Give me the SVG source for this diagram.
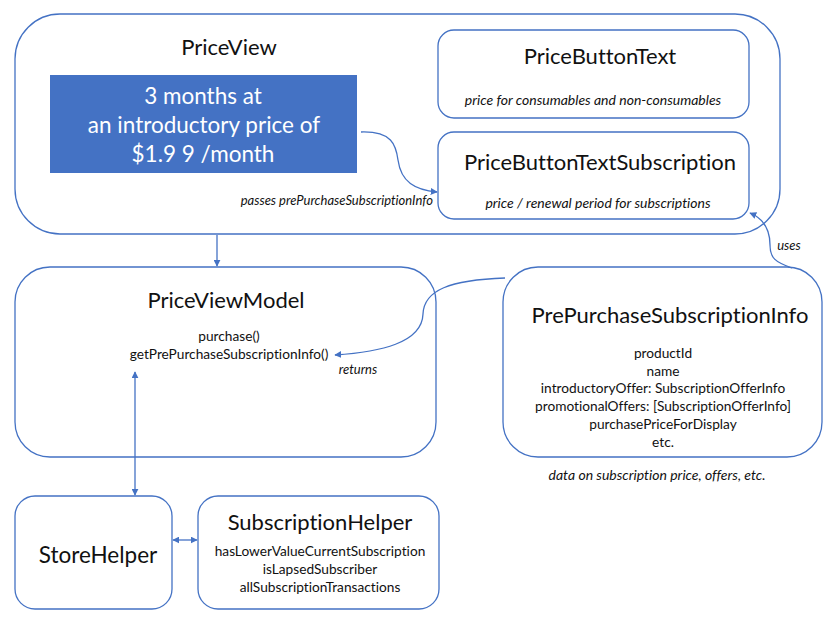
<svg xmlns="http://www.w3.org/2000/svg" width="838" height="627" viewBox="0 0 838 627">
<defs>
<marker id="ah" viewBox="0 0 10 10" refX="9" refY="5" markerWidth="7" markerHeight="7" orient="auto-start-reverse" markerUnits="userSpaceOnUse">
<path d="M0,0 L10,5 L0,10 z" fill="#4472C4"/>
</marker>
<style>
.box{fill:#fff;stroke:#4472C4;stroke-width:1.3}
.t{font-family:Lato,"Liberation Sans",sans-serif;fill:#111;text-anchor:middle;font-variant-ligatures:none;font-feature-settings:"liga" 0,"clig" 0,"dlig" 0}
.title{font-size:22px}
.body{font-size:13.7px}
.it{font-style:italic;font-size:14px}
.blue{font-size:22.5px;fill:#fff}
.con{fill:none;stroke:#4472C4;stroke-width:1.3}
</style>
</defs>
<rect width="838" height="627" fill="#fff"/>

<g id="PriceView">
<rect class="box" x="15" y="14" width="765" height="220" rx="45" ry="45"/>
<text class="t title" x="229" y="55">PriceView</text>
<rect x="50" y="75" width="307" height="98" fill="#4472C4"/>
<text class="t blue" x="203" y="104">3 months at</text>
<text class="t blue" x="204" y="133">an introductory price of</text>
<text class="t blue" x="203" y="162">$1.9 9 /month</text>
<text class="t it" style="text-anchor:end;font-size:13px" x="433" y="205">passes prePurchaseSubscriptionInfo</text>
</g>

<g id="PriceButtonText">
<rect class="box" x="438" y="30" width="311" height="88" rx="16" ry="16"/>
<text class="t title" x="600" y="64">PriceButtonText</text>
<text class="t it" x="593" y="105">price for consumables and non-consumables</text>
</g>

<g id="PriceButtonTextSubscription">
<rect class="box" x="438" y="132" width="311" height="87" rx="16" ry="16"/>
<text class="t title" x="600" y="170">PriceButtonTextSubscription</text>
<text class="t it" x="598" y="208">price / renewal period for subscriptions</text>
</g>

<g id="PriceViewModel">
<rect class="box" x="15" y="267" width="421" height="190" rx="35" ry="35"/>
<text class="t title" x="226" y="308">PriceViewModel</text>
<text class="t body" x="229" y="341">purchase()</text>
<text class="t body" x="229" y="359">getPrePurchaseSubscriptionInfo()</text>
<text class="t it" style="font-size:13px" x="358" y="374">returns</text>
</g>

<g id="PrePurchaseSubscriptionInfo">
<rect class="box" x="503" y="267" width="319" height="190" rx="35" ry="35"/>
<text class="t title" x="670" y="323">PrePurchaseSubscriptionInfo</text>
<text class="t body" x="663" y="358">productId</text>
<text class="t body" x="663" y="376">name</text>
<text class="t body" x="663" y="393">introductoryOffer: SubscriptionOfferInfo</text>
<text class="t body" x="663" y="411">promotionalOffers: [SubscriptionOfferInfo]</text>
<text class="t body" x="663" y="429">purchasePriceForDisplay</text>
<text class="t body" x="663" y="447">etc.</text>
<text class="t it" x="657" y="480">data on subscription price, offers, etc.</text>
</g>

<g id="StoreHelper">
<rect class="box" x="15" y="496" width="157" height="113" rx="20" ry="20"/>
<text class="t" style="font-size:22.5px" x="98" y="563">StoreHelper</text>
</g>

<g id="SubscriptionHelper">
<rect class="box" x="198" y="496" width="241" height="113" rx="20" ry="20"/>
<text class="t title" x="320" y="530">SubscriptionHelper</text>
<text class="t body" x="320" y="556">hasLowerValueCurrentSubscription</text>
<text class="t body" x="320" y="574">isLapsedSubscriber</text>
<text class="t body" x="320" y="592">allSubscriptionTransactions</text>
</g>

<g id="connectors">
<path class="con" d="M361,132 C392,131 396,145 398,160 C401,182 415,190 437,192" marker-end="url(#ah)"/>
<path class="con" d="M217,235 L217,266" marker-end="url(#ah)"/>
<path class="con" d="M505,278 C450,280 424,290 423,314 C422,343 380,352 335,355" marker-end="url(#ah)"/>
<path class="con" d="M135,372 L135,495" marker-start="url(#ah)" marker-end="url(#ah)"/>
<path class="con" d="M173,540 L197,540" marker-start="url(#ah)" marker-end="url(#ah)"/>
<path class="con" d="M792,268 C775,262 770,258 770,245 C770,228 762,218 750,213" marker-end="url(#ah)"/>
<text class="t it" style="font-size:13px" x="789" y="250">uses</text>
</g>
</svg>
